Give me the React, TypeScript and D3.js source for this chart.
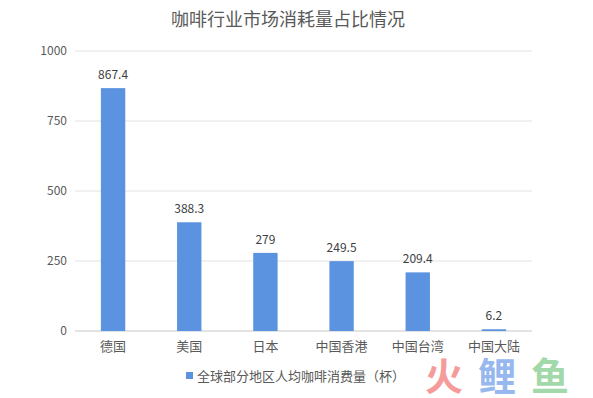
import React from "react";
import * as d3 from "d3";

const width = 593
const height = 398
const margin = ({top: 51, right: 61, bottom: 67, left: 75})

const categories = ["德国", "美国", "日本", "中国香港", "中国台湾", "中国大陆"]
const values = [867.4, 388.3, 279, 249.5, 209.4, 6.2]
const yTicks = [0, 250, 500, 750, 1000]
const seriesName = "全球部分地区人均咖啡消费量（杯）"
const title = "咖啡行业市场消耗量占比情况"
const watermark = ["火", "鲤", "鱼"]
const watermarkColors = ["#f59b9b", "#96b8ef", "#a3d9aa"]

const font = "'Microsoft YaHei', 'Noto Sans CJK SC', 'Noto Sans', sans-serif"

export default function App() {
    const x = d3.scaleBand()
        .domain(categories)
        .range([margin.left, width - margin.right])
        .paddingInner(0.68)
        .paddingOuter(0.34)

    const y = d3.scaleLinear()
        .domain([0, 1000])
        .range([height - margin.bottom, margin.top])

    // watermark glyph positions
    const wm = d3.scalePoint().domain(watermark).range([444, 550])

    return (
        <svg width={width} height={height} style={{position: "fixed", left: 0, top: 0, background: "#fff"}}
             fontFamily={font}>
            <rect width={width} height={height} fill="#fff"/>
            <text x={288} y={26} textAnchor="middle" fontSize={18} fill="#595959">{title}</text>

            {yTicks.map(t => (
                <g key={t}>
                    <line x1={margin.left} x2={width - margin.right} y1={y(t)} y2={y(t)}
                          stroke={t === 0 ? "#c8c8c8" : "#e2e2e2"} strokeWidth={1}/>
                    <text x={67} y={y(t)} dy="0.35em" textAnchor="end" fontSize={12} fill="#595959">{t}</text>
                </g>
            ))}

            {categories.map((c, i) => (
                <g key={c}>
                    <rect x={x(c)} y={y(values[i])} width={x.bandwidth()}
                          height={y(0) - y(values[i])} fill="#5b93e0"/>
                    <text x={x(c)! + x.bandwidth() / 2} y={y(values[i]) - 9} textAnchor="middle"
                          fontSize={12} fill="#404040">{values[i]}</text>
                    <text x={x(c)! + x.bandwidth() / 2} y={y(0) + 20} textAnchor="middle"
                          fontSize={13} fill="#595959">{c}</text>
                </g>
            ))}

            <rect x={186} y={372} width={7} height={7} fill="#5b93e0"/>
            <text x={197} y={376} dy="0.35em" fontSize={13} fill="#595959">{seriesName}</text>

            <g fontSize={38} fontWeight="bold" textAnchor="middle">
                {watermark.map((w, i) => (
                    <text key={w} x={wm(w)} y={390} fill={watermarkColors[i]}>{w}</text>
                ))}
            </g>
        </svg>
    )
}
